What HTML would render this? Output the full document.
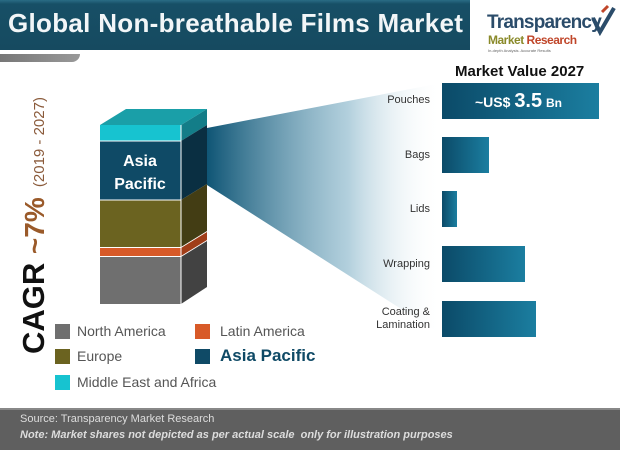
<!DOCTYPE html>
<html><head><meta charset="utf-8"><style>
body{margin:0;width:620px;height:448px;overflow:hidden;background:#fff;font-family:"Liberation Sans",sans-serif;position:relative}
.a{position:absolute;white-space:nowrap}
.lbl{position:absolute;right:190px;font-size:11px;color:#333;text-align:right;line-height:13px}
.bar{position:absolute;left:442px;height:36px;background:linear-gradient(90deg,#0b4a68,#1b7ea0)}
.sq{position:absolute;width:15px;height:15px}
.lg{position:absolute;font-size:14px;color:#555}
</style></head><body>
<div class="a" style="left:0;top:0;width:470px;height:50px;background:linear-gradient(180deg,#2a6c85 0,#174f66 4px,#164a60 100%)"></div>
<div class="a" style="left:0;top:54px;width:80px;height:8px;background:linear-gradient(90deg,#777,#999);border-radius:0 0 40px 0"></div>
<div class="a" style="left:8px;top:8px;font-size:26px;font-weight:bold;color:#f2f6f8;letter-spacing:0.3px">Global Non-breathable Films Market</div>
<div class="a" style="left:487px;top:12px;font-size:19px;font-weight:bold;color:#2b4c6a;letter-spacing:-0.8px">Transparency</div>
<div class="a" style="left:488px;top:33px;font-size:12px;font-weight:bold;letter-spacing:-0.5px"><span style="color:#8a8a2a">Market</span> <span style="color:#c0462a">Research</span></div>
<div class="a" style="left:488px;top:48px;font-size:4px;color:#666">In-depth Analysis. Accurate Results</div>
<svg class="a" style="left:590px;top:4px" width="28" height="32"><path d="M3 14 L10 28 L24 4" stroke="#2b4c6a" stroke-width="4" fill="none"/><path d="M12 8 L18 2" stroke="#c0462a" stroke-width="3"/></svg>
<svg class="a" style="left:0;top:0" width="620" height="448">
<defs><linearGradient id="f" x1="0" x2="1"><stop offset="0" stop-color="#0f5575"/><stop offset="0.6" stop-color="#7fb0c6" stop-opacity="0.6"/><stop offset="1" stop-color="#fff" stop-opacity="0"/></linearGradient></defs>
<polygon points="207,128 442,83 442,335 207,185" fill="url(#f)"/>
<polygon points="100,125 181,125 207,109 126,109" fill="#1a9fa8"/>
<rect x="100" y="125" width="81" height="16" fill="#17c3d0"/>
<rect x="100" y="141" width="81" height="59" fill="#0f4a66"/>
<rect x="100" y="200" width="81" height="47" fill="#6b6320"/>
<rect x="100" y="248" width="81" height="8" fill="#d85a28"/>
<rect x="100" y="257" width="81" height="47" fill="#6f6f6f"/>
<polygon points="181,125 207,109 207,125 181,141" fill="#137d88"/>
<polygon points="181,141 207,125 207,184 181,200" fill="#0a2f42"/>
<polygon points="181,200 207,184 207,231 181,247" fill="#433d14"/>
<polygon points="181,248 207,232 207,240 181,256" fill="#a03d18"/>
<polygon points="181,257 207,241 207,287 181,304" fill="#424242"/>
<g stroke="#fff" stroke-width="1"><line x1="100" y1="141" x2="181" y2="141"/><line x1="100" y1="200" x2="181" y2="200"/><line x1="100" y1="247.5" x2="181" y2="247.5"/><line x1="100" y1="256.5" x2="181" y2="256.5"/><line x1="181" y1="125" x2="181" y2="304"/></g>
<text x="140" y="166" font-size="16" font-weight="bold" fill="#fff" text-anchor="middle" font-family="Liberation Sans">Asia</text>
<text x="140" y="189" font-size="16" font-weight="bold" fill="#fff" text-anchor="middle" font-family="Liberation Sans">Pacific</text>
<text transform="translate(44,354) rotate(-90)" font-family="Liberation Sans"><tspan font-size="31" font-weight="bold" fill="#111">CAGR </tspan><tspan font-size="28" font-weight="bold" fill="#9a5a2a">~7%</tspan><tspan font-size="15" fill="#8a5a3a" dx="6"> (2019 - 2027)</tspan></text>
</svg>
<div class="a" style="left:455px;top:63px;font-size:15px;font-weight:bold;color:#111">Market Value 2027</div>
<div class="bar" style="top:83px;width:157px"></div>
<div class="a" style="left:475px;top:90px;font-size:14px;font-weight:bold;color:#fff">~US$ <span style="font-size:20px">3.5</span> <span style="font-size:12px">Bn</span></div>
<div class="bar" style="top:137px;width:47px"></div>
<div class="bar" style="top:191px;width:15px"></div>
<div class="bar" style="top:246px;width:83px"></div>
<div class="bar" style="top:301px;width:94px"></div>
<div class="lbl" style="top:94px">Pouches</div>
<div class="lbl" style="top:149px">Bags</div>
<div class="lbl" style="top:203px">Lids</div>
<div class="lbl" style="top:258px">Wrapping</div>
<div class="lbl" style="top:306px">Coating &amp;<br>Lamination</div>
<div class="sq" style="left:55px;top:324px;background:#6f6f6f"></div><div class="lg" style="left:77px;top:323px">North America</div>
<div class="sq" style="left:195px;top:324px;background:#d85a28"></div><div class="lg" style="left:220px;top:323px">Latin America</div>
<div class="sq" style="left:55px;top:349px;background:#6b6320"></div><div class="lg" style="left:77px;top:348px">Europe</div>
<div class="sq" style="left:195px;top:349px;background:#0f4a66"></div><div class="lg" style="left:220px;top:346px;font-size:17px;font-weight:bold;color:#0f4a66">Asia Pacific</div>
<div class="sq" style="left:55px;top:375px;background:#17c3d0"></div><div class="lg" style="left:77px;top:374px">Middle East and Africa</div>
<div class="a" style="left:0;top:408px;width:620px;height:40px;background:#5f5f5f;border-top:2px solid #888"></div>
<div class="a" style="left:20px;top:413px;font-size:11px;color:#ddd">Source: Transparency Market Research</div>
<div class="a" style="left:20px;top:429px;font-size:11px;color:#ddd;font-style:italic;font-weight:bold">Note: Market shares not depicted as per actual scale &nbsp;only for illustration purposes</div>
</body></html>
